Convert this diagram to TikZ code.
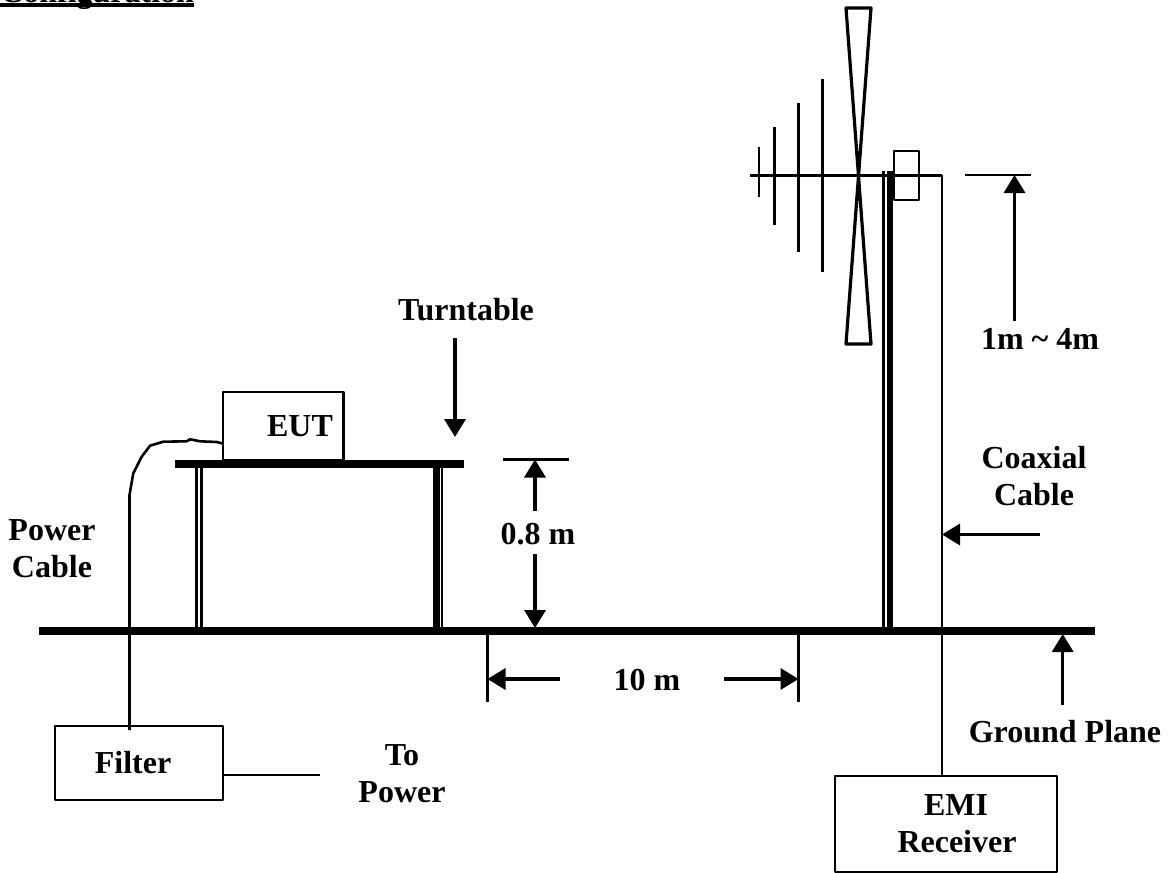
\documentclass[tikz,border=0pt]{standalone}
\usepackage{fontspec}
\setmainfont{Liberation Serif}
\usetikzlibrary{arrows.meta}
\begin{document}
\begin{tikzpicture}[line join=round,>={Triangle[length=18pt,width=21pt]},x=1.0pt,y=-1.0pt,
	lbl/.style={font=\fontsize{32}{37}\selectfont\bfseries,align=center,inner sep=0pt},
	eqbox/.style={lbl,draw,line width=2.5pt,outer sep=0pt},
	bar/.style={line width=8pt},
	wire/.style={line width=2.6pt},
	dimline/.style={line width=3.4pt}]
	\useasboundingbox (0,0) rectangle (1176,873);
	\clip (0,0) rectangle (1176,873);
	% floor and table
	\coordinate (gl) at (39,631);
	\coordinate (gr) at (1095,631);
	\coordinate (tl) at (175,464);
	\coordinate (tr) at (464,464);
	\draw [line width=2.7pt] (196.3,460) -- (196.3,631);
	\draw [line width=3.4pt] (201.7,460) -- (201.7,631);
	\draw [line width=6.5pt] (436.3,464) -- (436.3,631);
	\draw [line width=2.2pt] (442,464) -- (442,631);
	\node [eqbox,minimum width=120.5pt,minimum height=68pt] (eut) at (283,426) {\hspace*{34pt}EUT};
	\draw [bar] (tl) -- (tr);
	% boxes
	\node [eqbox,minimum width=168pt,minimum height=74pt] (filter) at (139,763) {\hspace*{-12pt}Filter};
	\node [eqbox,minimum width=222pt,minimum height=96pt] (emi) at (946,824) {\hspace*{20pt}EMI\\\hspace*{22pt}Receiver};
	% power cable
	\coordinate (fa) at (129.5,730);
	\coordinate (tp) at (320,775);
	\draw [wire] (eut.west |- 0,443.5) -- (216.7,442) -- (200,441.3) -- (190,439.3) -- (186.7,441.3) -- (163.3,441.7) -- (150,445.7) -- (141.7,456.7) -- (133.3,473.3) -- (129.5,495) -- (fa);
	\draw [line width=2.8pt] (filter.east |- tp) -- (tp);
	\draw [bar] (gl) -- (gr);
	% antenna
	\coordinate (ba) at (750,175);
	\coordinate (bb) at (942,175);
	\draw [line width=3.2pt] (846,8) -- (871,8) -- (846,344) -- (871,344) -- cycle;
	\draw [line width=2.2pt] (759,147) -- (759,197);
	\draw [line width=3pt] (774.5,127) -- (774.5,225);
	\draw [line width=2.6pt] (798.5,103) -- (798.5,252);
	\draw [line width=3pt] (822.5,79) -- (822.5,272);
	\draw [line width=3.4pt] (883.3,171) -- (883.3,631);
	\draw [line width=5.6pt] (890,171) -- (890,631);
	\draw [line width=3pt] (ba) -- (bb);
	\draw [line width=2.6pt] (bb) -- (bb |- emi.north);
	\draw [line width=2.4pt] (894,151) rectangle (919,200);
	% height of the antenna
	\coordinate (ha) at (965,175);
	\coordinate (hb) at (1031,175);
	\coordinate (hc) at (1014.5,321);
	\draw [line width=2.8pt] (ha) -- (hb);
	\draw [dimline,->] (hc) -- (hc |- ha);
	\node [lbl] (height) at (1040,339) {1m \textasciitilde{} 4m};
	% turntable
	\node [lbl] (turn) at (466,310) {Turntable};
	\coordinate (ta) at (455,338);
	\coordinate (tb) at (455,437);
	\draw [dimline,->] (ta) -- (tb);
	% table height
	\coordinate (ma) at (503,459.5);
	\coordinate (mb) at (569,459.5);
	\coordinate (mc) at (535,511);
	\coordinate (md) at (535,554);
	\coordinate (me) at (535,628);
	\draw [line width=2.4pt] (ma) -- (mb);
	\draw [dimline,->] (mc) -- (mc |- ma);
	\draw [dimline,->] (md) -- (me);
	\node [lbl] (tall) at (538,534) {0.8 m};
	% distance
	\coordinate (da) at (487.5,635);
	\coordinate (db) at (487.5,702);
	\coordinate (dc) at (798.5,635);
	\coordinate (dd) at (798.5,702);
	\coordinate (de) at (560,679);
	\coordinate (df) at (724,679);
	\draw [line width=2.2pt] (da) -- (db);
	\draw [line width=2.2pt] (dc) -- (dd);
	\draw [dimline,->] (de) -- (de -| da);
	\draw [dimline,->] (df) -- (df -| dc);
	\node [lbl] (dist) at (647,680) {10 m};
	% coaxial cable
	\node [lbl] (coax) at (1034,476) {Coaxial\\Cable};
	\coordinate (ca) at (1040,534.5);
	\draw [dimline,->] (ca) -- (ca -| bb);
	% ground plane
	\coordinate (pa) at (1062.7,705);
	\coordinate (pb) at (1062.7,634);
	\draw [dimline,->] (pa) -- (pb);
	\node [lbl] (plane) at (1065,732) {Ground Plane};
	% other labels
	\node [lbl] (pwr) at (52,549) {Power\\Cable};
	\node [lbl] (topwr) at (402,774) {To\\Power};
	\node [lbl,anchor=base west] (conf) at (0,2) {Configuration};
	\coordinate (ua) at (0,5);
	\coordinate (ub) at (194,5);
	\draw [line width=3.5pt] (ua) -- (ub);
\end{tikzpicture}
\end{document}
